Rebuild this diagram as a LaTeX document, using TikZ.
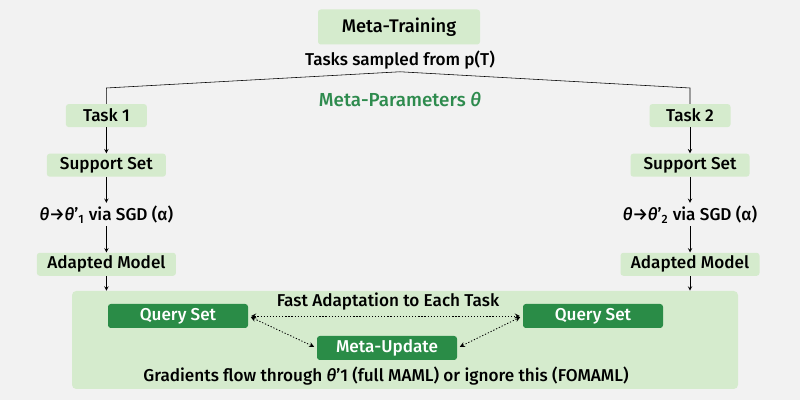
\documentclass[tikz,border=0pt]{standalone}
\usepackage{fontspec}
\setmainfont{Fira Sans}[UprightFont={* Medium}, ItalicFont={* Medium Italic}, BoldFont={* SemiBold}]
\usepackage{tikz}
\usetikzlibrary{arrows, positioning}
\definecolor{bggray}{HTML}{F2F2F2}
\definecolor{lightgreen}{HTML}{D5EBCD}
\definecolor{darkgreen}{HTML}{2A8C47}
\definecolor{textgreen}{HTML}{2E8B4E}

\begin{document}
\begin{tikzpicture}[
    node distance=0.65cm,
    font=\fontsize{12.2}{14}\selectfont,
    box/.style={rectangle, rounded corners=2pt, fill=lightgreen, text centered, minimum height=0.575cm, inner sep=0pt},
    query/.style={rectangle, rounded corners=2pt, fill=darkgreen, text=white, text centered, minimum width=3.5cm, minimum height=0.6cm, inner sep=0pt},
    plain/.style={rectangle, text centered, minimum height=0.575cm, inner sep=0pt},
    arrow/.style={->, >=stealth},
    twoway/.style={<->, >=stealth, line width=0.6pt, dash pattern=on 0.9pt off 1.3pt, shorten <=2pt, shorten >=2pt}
]

% Canvas
\fill[bggray] (0,0) rectangle (20,10);

% Meta-Training
\node[box, minimum width=4.05cm, minimum height=0.875cm, font=\fontsize{13}{15}\selectfont] (train) at (9.975,9.325) {Meta-Training};
\node[plain] (tasks) at (10,8.5) {Tasks sampled from p(T)};
\node[plain, text=textgreen, font=\fontsize{13.4}{15}\selectfont] (params) at (10,7.5) {Meta-Parameters \textit{θ}};

% Task 1
\node[box, minimum width=2.025cm] (task1) at (2.66,7.11) {Task 1};
\node[box, minimum width=2.975cm, below=of task1] (support1) {Support Set};
\node[plain, below=of support1] (sgd1) {\textit{θ}→\textit{θ}'\textsubscript{1} via SGD (α)};
\node[box, minimum width=3.475cm, below=of sgd1] (adapt1) {Adapted Model};

% Task 2
\node[box, minimum width=2.025cm] (task2) at (17.25,7.11) {Task 2};
\node[box, minimum width=2.975cm, below=of task2] (support2) {Support Set};
\node[plain, below=of support2] (sgd2) {\textit{θ}→\textit{θ}'\textsubscript{2} via SGD (α)};
\node[box, minimum width=3.475cm, below=of sgd2] (adapt2) {Adapted Model};

% Outer loop
\node[rectangle, rounded corners=3pt, fill=lightgreen, minimum width=16.65cm, minimum height=2.45cm, inner sep=0pt] (panel) at (10.125,1.5) {};
\node[query] (query1) at (4.45,2.1) {Query Set};
\node[query] (query2) at (14.825,2.1) {Query Set};
\node[query] (update) at (9.675,1.3) {Meta-Update};
\node[plain] (fast) at (9.7,2.45) {Fast Adaptation to Each Task};
\node[plain] (grad) at (9.65,0.6) {Gradients flow through \textit{θ}'1 (full MAML) or ignore this (FOMAML)};

% Connections
\coordinate (split1) at (task1 |- 0,7.8);
\coordinate (split2) at (task2 |- 0,7.8);
\draw (tasks.south) -- (split1) -- (task1.north);
\draw (tasks.south) -- (split2) -- (task2.north);
\draw[arrow] (task1) -- (support1);
\draw[arrow] (support1) -- (sgd1);
\draw[arrow] (sgd1) -- (adapt1);
\draw[arrow] (adapt1) -- (adapt1 |- panel.north);
\draw[arrow] (task2) -- (support2);
\draw[arrow] (support2) -- (sgd2);
\draw[arrow] (sgd2) -- (adapt2);
\draw[arrow] (adapt2) -- (adapt2 |- panel.north);
\draw[twoway] (query1.east) -- (query2.west);
\draw[twoway] (query1.east) -- (update.west);
\draw[twoway] (update.east) -- (query2.west);

\end{tikzpicture}
\end{document}
